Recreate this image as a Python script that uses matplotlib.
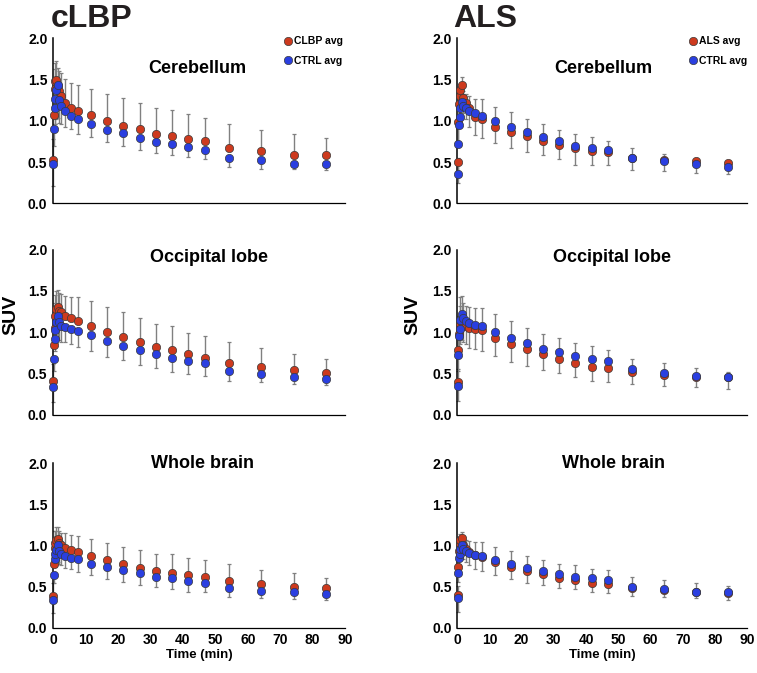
import numpy as np
import matplotlib
matplotlib.use('Agg')
import matplotlib.pyplot as plt
from matplotlib.ticker import FormatStrFormatter

plt.rcParams['font.family'] = ['Liberation Sans', 'DejaVu Sans']
plt.rcParams['font.weight'] = 'bold'

# --- DATA ---
time_min = [0.1, 0.3, 0.5, 0.75, 1.0, 1.4, 1.9, 2.6, 3.6, 5.4, 7.8, 11.8, 16.7,
            21.7, 26.7, 31.7, 36.7, 41.7, 46.7, 54.2, 64.2, 74.2, 84.2]

# cLBP study (left column)
cereb_clbp = [0.53, 1.07, 1.38, 1.48, 1.50, 1.42, 1.36, 1.30, 1.21, 1.15, 1.12, 1.07,
              1.00, 0.94, 0.90, 0.84, 0.81, 0.78, 0.75, 0.67, 0.63, 0.59, 0.58]
cereb_clbp_sd = [0.25, 0.35, 0.25, 0.22, 0.22, 0.22, 0.25, 0.28, 0.30, 0.31, 0.31, 0.32,
                 0.33, 0.34, 0.32, 0.32, 0.32, 0.30, 0.28, 0.29, 0.26, 0.25, 0.21]
cereb_ctrl1 = [0.48, 0.90, 1.16, 1.26, 1.37, 1.43, 1.25, 1.18, 1.12, 1.06, 1.02, 0.96,
               0.89, 0.85, 0.79, 0.74, 0.72, 0.68, 0.65, 0.55, 0.52, 0.48, 0.47]
cereb_ctrl1_sd = [0.27, 0.20, 0.20, 0.30, 0.35, 0.40, 0.28, 0.22, 0.20, 0.16, 0.18, 0.16,
                  0.15, 0.15, 0.14, 0.13, 0.14, 0.12, 0.11, 0.11, 0.10, 0.07, 0.07]

occ_clbp = [0.41, 0.84, 1.05, 1.20, 1.28, 1.31, 1.26, 1.24, 1.20, 1.17, 1.14, 1.08,
            1.00, 0.94, 0.88, 0.82, 0.78, 0.73, 0.69, 0.62, 0.58, 0.54, 0.50]
occ_clbp_sd = [0.20, 0.30, 0.30, 0.25, 0.22, 0.20, 0.22, 0.22, 0.24, 0.26, 0.28, 0.30,
               0.30, 0.30, 0.29, 0.28, 0.29, 0.26, 0.26, 0.26, 0.23, 0.20, 0.18]
occ_ctrl1 = [0.33, 0.68, 0.92, 1.02, 1.12, 1.19, 1.12, 1.08, 1.06, 1.04, 1.01, 0.96,
             0.89, 0.83, 0.78, 0.73, 0.69, 0.65, 0.62, 0.53, 0.49, 0.45, 0.43]
occ_ctrl1_sd = [0.18, 0.15, 0.15, 0.15, 0.25, 0.28, 0.22, 0.20, 0.18, 0.18, 0.19, 0.19,
                0.19, 0.17, 0.18, 0.17, 0.17, 0.16, 0.15, 0.12, 0.10, 0.08, 0.07]

wb_clbp = [0.39, 0.78, 0.97, 1.03, 1.07, 1.08, 1.03, 1.00, 0.97, 0.94, 0.92, 0.87,
           0.82, 0.78, 0.73, 0.69, 0.67, 0.64, 0.62, 0.57, 0.53, 0.50, 0.48]
wb_clbp_sd = [0.15, 0.25, 0.20, 0.15, 0.15, 0.15, 0.15, 0.15, 0.18, 0.19, 0.20, 0.21,
              0.21, 0.20, 0.22, 0.21, 0.23, 0.21, 0.20, 0.20, 0.17, 0.17, 0.13]
wb_ctrl1 = [0.34, 0.64, 0.84, 0.90, 0.95, 1.00, 0.93, 0.90, 0.87, 0.85, 0.83, 0.78,
            0.74, 0.70, 0.66, 0.62, 0.60, 0.57, 0.55, 0.48, 0.45, 0.43, 0.41]
wb_ctrl1_sd = [0.16, 0.10, 0.10, 0.12, 0.18, 0.20, 0.15, 0.14, 0.14, 0.14, 0.15, 0.14,
               0.15, 0.14, 0.14, 0.12, 0.13, 0.13, 0.12, 0.10, 0.09, 0.08, 0.07]

# ALS study (right column)
cereb_als = [0.50, 0.98, 1.20, 1.30, 1.37, 1.43, 1.28, 1.22, 1.15, 1.05, 1.02, 0.93,
             0.86, 0.81, 0.75, 0.71, 0.67, 0.63, 0.62, 0.55, 0.52, 0.51, 0.49]
cereb_als_sd = [0.26, 0.25, 0.20, 0.15, 0.15, 0.15, 0.18, 0.20, 0.22, 0.22, 0.23, 0.20,
                0.19, 0.19, 0.17, 0.17, 0.21, 0.17, 0.16, 0.15, 0.13, 0.14, 0.14]
cereb_ctrl2 = [0.35, 0.72, 0.95, 1.05, 1.15, 1.23, 1.18, 1.15, 1.12, 1.09, 1.06, 1.00,
               0.93, 0.87, 0.80, 0.75, 0.70, 0.67, 0.64, 0.55, 0.51, 0.47, 0.44]
cereb_ctrl2_sd = [0.20, 0.20, 0.25, 0.30, 0.30, 0.30, 0.18, 0.18, 0.18, 0.18, 0.20, 0.17,
                  0.18, 0.15, 0.16, 0.14, 0.14, 0.13, 0.12, 0.12, 0.09, 0.07, 0.04]

occ_als = [0.39, 0.78, 0.98, 1.05, 1.10, 1.12, 1.10, 1.07, 1.05, 1.04, 1.02, 0.93,
           0.85, 0.79, 0.73, 0.67, 0.63, 0.58, 0.56, 0.52, 0.48, 0.46, 0.45]
occ_als_sd = [0.22, 0.25, 0.20, 0.20, 0.20, 0.22, 0.22, 0.22, 0.24, 0.25, 0.25, 0.22,
              0.21, 0.20, 0.19, 0.17, 0.17, 0.17, 0.16, 0.15, 0.13, 0.13, 0.14]
occ_ctrl2 = [0.35, 0.72, 0.95, 1.04, 1.15, 1.22, 1.17, 1.14, 1.11, 1.09, 1.07, 1.00,
             0.93, 0.87, 0.80, 0.76, 0.71, 0.67, 0.65, 0.55, 0.51, 0.47, 0.45]
occ_ctrl2_sd = [0.20, 0.20, 0.25, 0.28, 0.28, 0.22, 0.18, 0.18, 0.20, 0.20, 0.22, 0.22,
                0.20, 0.18, 0.18, 0.17, 0.16, 0.16, 0.13, 0.13, 0.11, 0.09, 0.07]

wb_als = [0.40, 0.74, 0.93, 1.02, 1.07, 1.09, 1.00, 0.96, 0.92, 0.88, 0.86, 0.80,
          0.74, 0.69, 0.65, 0.61, 0.58, 0.55, 0.53, 0.49, 0.46, 0.43, 0.42]
wb_als_sd = [0.21, 0.18, 0.15, 0.15, 0.15, 0.15, 0.16, 0.16, 0.16, 0.16, 0.17, 0.16,
             0.15, 0.14, 0.13, 0.12, 0.11, 0.12, 0.11, 0.10, 0.09, 0.07, 0.08]
wb_ctrl2 = [0.36, 0.67, 0.85, 0.90, 0.96, 1.01, 0.96, 0.93, 0.91, 0.88, 0.87, 0.82,
            0.77, 0.73, 0.69, 0.65, 0.62, 0.60, 0.58, 0.50, 0.47, 0.44, 0.43]
wb_ctrl2_sd = [0.15, 0.15, 0.15, 0.18, 0.18, 0.15, 0.14, 0.14, 0.14, 0.16, 0.17, 0.16,
               0.16, 0.14, 0.13, 0.13, 0.14, 0.12, 0.12, 0.12, 0.11, 0.10, 0.08]

region_names = ['Cerebellum', 'Occipital lobe', 'Whole brain']
study_names = ['cLBP', 'ALS']
patient_labels = ['CLBP avg', 'ALS avg']
ctrl_label = 'CTRL avg'
x_ticks = [0, 10, 20, 30, 40, 50, 60, 70, 80, 90]
y_ticks = [0.0, 0.5, 1.0, 1.5, 2.0]

# --- STYLE ---
RED = '#CD3A1E'
BLUE = '#2A3FE0'
ERR = '#808080'
CAP = '#333333'

col_left = [0.070, 0.604]
col_width = [0.386, 0.383]
row_bottom = [0.698, 0.384, 0.067]
row_height = 0.245
title_pos = [[(44.5, 1.64), (45.5, 1.64)],
             [(48.0, 1.90), (48.0, 1.90)],
             [(46.0, 2.00), (48.5, 2.00)]]

panels = [
    [(cereb_clbp, cereb_clbp_sd, cereb_ctrl1, cereb_ctrl1_sd),
     (cereb_als, cereb_als_sd, cereb_ctrl2, cereb_ctrl2_sd)],
    [(occ_clbp, occ_clbp_sd, occ_ctrl1, occ_ctrl1_sd),
     (occ_als, occ_als_sd, occ_ctrl2, occ_ctrl2_sd)],
    [(wb_clbp, wb_clbp_sd, wb_ctrl1, wb_ctrl1_sd),
     (wb_als, wb_als_sd, wb_ctrl2, wb_ctrl2_sd)],
]

fig = plt.figure(figsize=(7.57, 6.73), dpi=100)
t = np.array(time_min)

for c in range(2):
    for r in range(3):
        pat, pat_sd, ctl, ctl_sd = [np.array(a) for a in panels[r][c]]
        zero = np.zeros_like(t)
        ax = fig.add_axes([col_left[c], row_bottom[r], col_width[c], row_height])

        # left column: patient bars up, control down; right column the reverse
        if c == 0:
            pat_err, ctl_err = [zero, pat_sd], [ctl_sd, zero]
        else:
            pat_err, ctl_err = [pat_sd, zero], [zero, ctl_sd]

        for y, err in ((pat, pat_err), (ctl, ctl_err)):
            eb = ax.errorbar(t, y, yerr=err, fmt='none', ecolor=ERR, elinewidth=1.0,
                             capsize=1.6, capthick=0.9, zorder=2, clip_on=False)
            for cap in eb[1]:
                cap.set_color(CAP)

        ax.plot(t, pat, 'o', color=RED, ms=6, mec='#3a3a3a', mew=0.5,
                label=patient_labels[c], zorder=3, clip_on=False)
        ax.plot(t, ctl, 'o', color=BLUE, ms=6, mec='#3a3a3a', mew=0.5,
                label=ctrl_label, zorder=4, clip_on=False)

        ax.set_xlim(0, 90)
        ax.set_ylim(0, 2.0)
        ax.set_yticks(y_ticks)
        ax.yaxis.set_major_formatter(FormatStrFormatter('%.1f'))
        ax.spines['top'].set_visible(False)
        ax.spines['right'].set_visible(False)
        ax.spines['left'].set_linewidth(1.1)
        ax.spines['bottom'].set_linewidth(0.9)
        ax.tick_params(length=0, labelsize=10, pad=4)
        if r == 2:
            ax.set_xticks(x_ticks)
            ax.set_xlabel('Time (min)', fontsize=9.5, fontweight='bold', labelpad=1)
        else:
            ax.set_xticks([])

        tx, ty = title_pos[r][c]
        ax.text(tx, ty, region_names[r], fontsize=13, fontweight='bold',
                ha='center', va='center')

        if r == 0:
            ax.legend(loc='upper left', bbox_to_anchor=(0.775 if c == 0 else 0.785, 1.045),
                      frameon=False, fontsize=7.5, handlelength=0.6, handletextpad=0.3,
                      labelspacing=0.9, borderpad=0, markerscale=1.0)

fig.text(51 / 757, 1 - 27 / 673, study_names[0], fontsize=23, fontweight='bold',
         color='#231F20', va='baseline', ha='left')
fig.text(453 / 757, 1 - 27 / 673, study_names[1], fontsize=23, fontweight='bold',
         color='#231F20', va='baseline', ha='left')
fig.text(11 / 757, 1 - 315 / 673, 'SUV', rotation=90, fontsize=14, fontweight='bold',
         ha='center', va='center')
fig.text(413 / 757, 1 - 315 / 673, 'SUV', rotation=90, fontsize=14, fontweight='bold',
         ha='center', va='center')

fig.savefig('out.png', dpi=100)
